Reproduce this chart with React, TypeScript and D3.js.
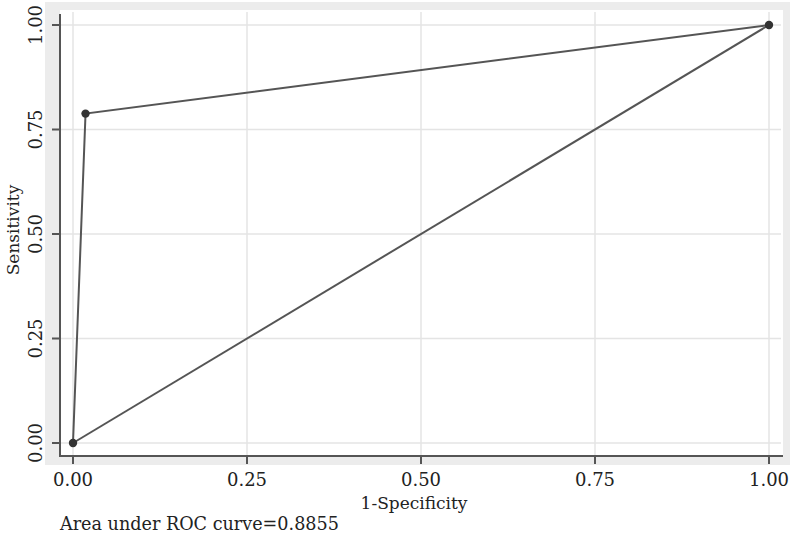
import React from "react";
import * as d3 from "d3";

const fpr = [0, 0.018, 1];
const tpr = [0, 0.788, 1];
const refX = [0, 1];
const refY = [0, 1];
const ticks = [0, 0.25, 0.5, 0.75, 1];
const tickLabels = ["0.00", "0.25", "0.50", "0.75", "1.00"];
const xTitle = "1-Specificity";
const yTitle = "Sensitivity";
const caption = "Area under ROC curve=0.8855";

export default function App() {
  const W = 794, H = 546;
  const x = d3.scaleLinear().domain([0, 1]).range([73, 769]);
  const y = d3.scaleLinear().domain([0, 1]).range([443, 25]);
  const line = d3.line<number>().x((_, i) => x(fpr[i])).y((d) => y(d));
  const refLine = d3.line<number>().x((_, i) => x(refX[i])).y((d) => y(d));
  const font = "'DejaVu Serif', 'Liberation Serif', serif";
  const dark = "#555";
  return (
    <svg width={W} height={H} style={{ position: "absolute", left: 0, top: 0 }}>
      <rect x={0} y={0} width={W} height={H} fill="#fff" />
      <rect x={45} y={2} width={745} height={463} fill="#ececec" />
      <rect x={60} y={10} width={723} height={446} fill="#fff" />
      {ticks.map((t, i) => (
        <g key={i}>
          <line x1={x(t)} x2={x(t)} y1={12} y2={456} stroke="#e4e4e4" strokeWidth={1.5} />
          <line x1={60} x2={781} y1={y(t)} y2={y(t)} stroke="#e4e4e4" strokeWidth={1.5} />
        </g>
      ))}
      <path d={refLine(refY) || ""} fill="none" stroke={dark} strokeWidth={2} />
      <path d={line(tpr) || ""} fill="none" stroke={dark} strokeWidth={2} />
      {tpr.map((v, i) => (
        <circle key={i} cx={x(fpr[i])} cy={y(v)} r={4.2} fill="#333" />
      ))}
      <line x1={60} x2={60} y1={14} y2={457} stroke={dark} strokeWidth={2} />
      <line x1={59} x2={783} y1={456} y2={456} stroke={dark} strokeWidth={2} />
      {ticks.map((t, i) => (
        <g key={"t" + i}>
          <line x1={52} x2={60} y1={y(t)} y2={y(t)} stroke={dark} strokeWidth={2} />
          <line x1={x(t)} x2={x(t)} y1={456} y2={464} stroke={dark} strokeWidth={2} />
          <text x={x(t)} y={486} textAnchor="middle" fontFamily={font} fontSize={18} fill="#222">{tickLabels[i]}</text>
          <text transform={`translate(42,${y(t)}) rotate(-90)`} textAnchor="middle" fontFamily={font} fontSize={18} fill="#222">{tickLabels[i]}</text>
        </g>
      ))}
      <text x={414} y={509} textAnchor="middle" fontFamily={font} fontSize={17} fill="#222">{xTitle}</text>
      <text transform={`translate(19,230) rotate(-90)`} textAnchor="middle" fontFamily={font} fontSize={17} fill="#222">{yTitle}</text>
      <text x={60} y={530} fontFamily={font} fontSize={17.6} fill="#222">{caption}</text>
    </svg>
  );
}
